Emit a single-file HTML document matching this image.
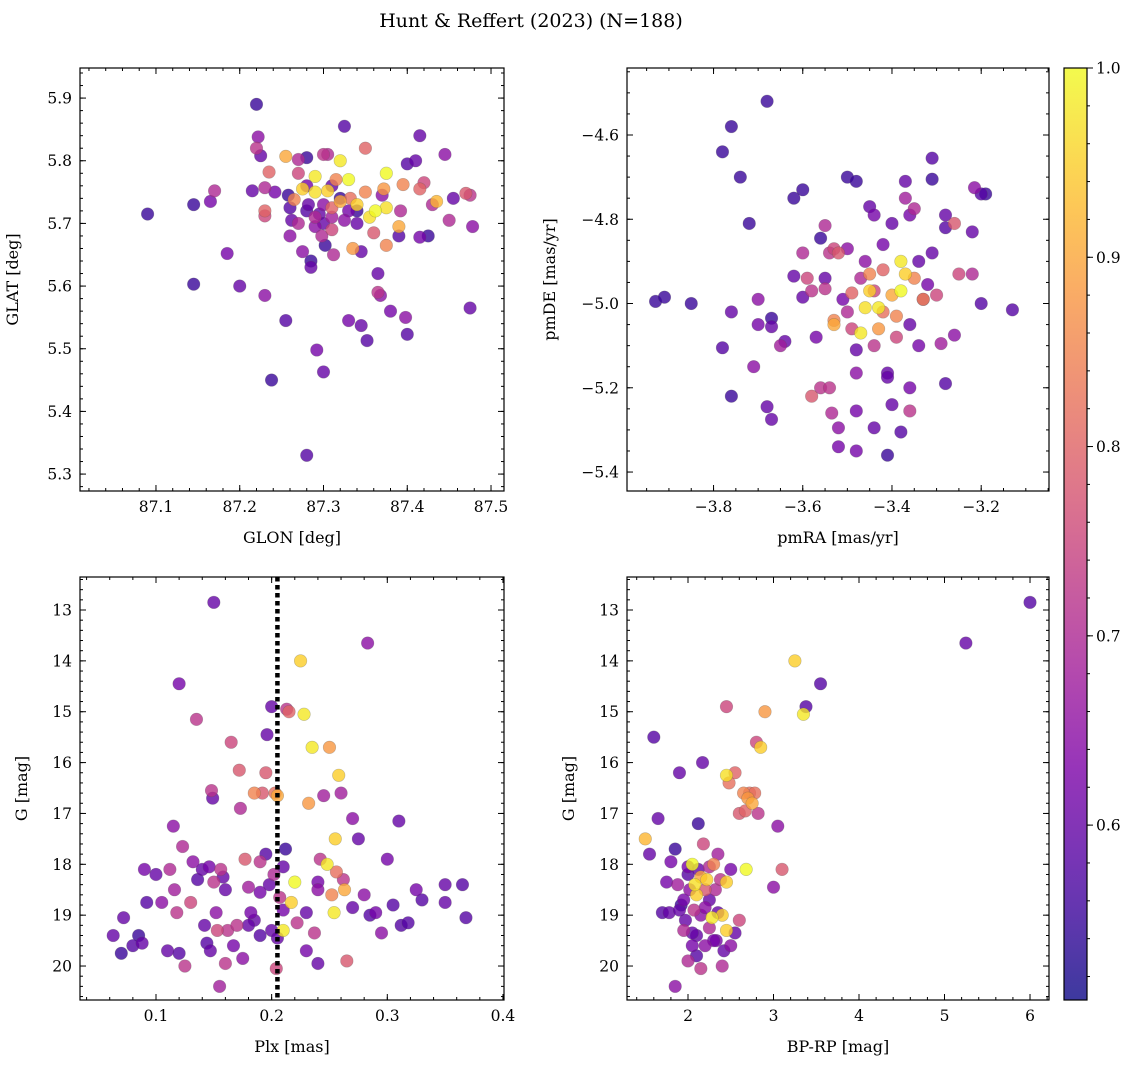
<!DOCTYPE html>
<html><head><meta charset="utf-8"><style>
body{margin:0;background:#fff;}
svg{display:block;font-family:"DejaVu Serif","Liberation Serif",serif;}
</style></head><body>
<svg id="fig" width="1136" height="1068" viewBox="0 0 1136 1068">
<text x="531" y="27" font-size="19" text-anchor="middle">Hunt &amp; Reffert (2023) (N=188)</text>
</svg>
<script>
// Panel 1: GLON vs GLAT
const p1x=[87.09,87.145,87.145,87.165,87.17,87.185,87.2,87.22,87.222,87.22,87.225,87.215,87.23,87.23,87.23,87.23,87.235,87.238,87.242,87.255,87.255,87.258,87.26,87.262,87.265,87.27,87.27,87.27,87.275,87.275,87.28,87.28,87.28,87.282,87.285,87.285,87.29,87.29,87.292,87.295,87.298,87.3,87.3,87.3,87.302,87.305,87.305,87.31,87.31,87.312,87.315,87.32,87.32,87.325,87.325,87.33,87.33,87.332,87.335,87.34,87.34,87.345,87.345,87.35,87.352,87.355,87.36,87.362,87.365,87.365,87.368,87.37,87.372,87.375,87.375,87.375,87.38,87.39,87.39,87.392,87.395,87.398,87.4,87.4,87.41,87.415,87.415,87.415,87.42,87.425,87.43,87.435,87.445,87.45,87.455,87.47,87.475,87.475,87.478,87.28,87.31,87.32,87.3,87.34,87.29,87.26,87.33,87.35,87.31,87.29];
const p1y=[5.715,5.73,5.603,5.735,5.752,5.652,5.6,5.89,5.838,5.82,5.808,5.752,5.585,5.757,5.712,5.72,5.782,5.45,5.75,5.807,5.545,5.745,5.68,5.705,5.738,5.7,5.78,5.802,5.755,5.655,5.33,5.805,5.76,5.73,5.64,5.63,5.75,5.775,5.498,5.715,5.68,5.463,5.81,5.73,5.665,5.752,5.81,5.725,5.69,5.65,5.77,5.8,5.735,5.855,5.705,5.545,5.77,5.74,5.66,5.73,5.72,5.537,5.655,5.82,5.513,5.71,5.685,5.72,5.59,5.62,5.585,5.745,5.755,5.78,5.725,5.665,5.56,5.695,5.68,5.72,5.762,5.55,5.523,5.795,5.8,5.84,5.755,5.678,5.765,5.68,5.73,5.735,5.81,5.705,5.74,5.748,5.745,5.565,5.695,5.72,5.76,5.74,5.7,5.7,5.71,5.725,5.72,5.75,5.71,5.695];
const p1c=[0.55,0.55,0.55,0.62,0.7,0.62,0.6,0.55,0.65,0.72,0.6,0.6,0.65,0.7,0.75,0.8,0.8,0.55,0.62,0.9,0.58,0.55,0.65,0.6,0.85,0.7,0.75,0.7,0.95,0.65,0.58,0.55,0.62,0.6,0.55,0.6,0.97,0.98,0.62,0.6,0.7,0.6,0.72,0.65,0.55,0.95,0.7,0.8,0.75,0.7,0.85,0.98,0.9,0.58,0.65,0.62,1.0,0.82,0.88,0.95,0.55,0.6,0.6,0.8,0.58,0.97,0.78,1.0,0.72,0.6,0.65,0.65,0.88,1.0,0.97,0.85,0.62,0.9,0.58,0.7,0.85,0.65,0.58,0.58,0.6,0.6,0.8,0.62,0.75,0.55,0.7,0.92,0.65,0.7,0.6,0.78,0.72,0.6,0.65,0.58,0.6,0.55,0.6,0.6,0.7,0.58,0.62,0.85,0.68,0.65];
// Panel 2: pmRA vs pmDE
const p2x=[-3.93,-3.91,-3.85,-3.78,-3.76,-3.74,-3.68,-3.72,-3.78,-3.76,-3.76,-3.7,-3.68,-3.67,-3.67,-3.67,-3.7,-3.71,-3.65,-3.64,-3.62,-3.62,-3.6,-3.6,-3.59,-3.58,-3.58,-3.57,-3.56,-3.56,-3.55,-3.55,-3.54,-3.54,-3.535,-3.53,-3.53,-3.53,-3.52,-3.52,-3.52,-3.51,-3.5,-3.5,-3.49,-3.49,-3.48,-3.48,-3.48,-3.48,-3.48,-3.47,-3.47,-3.46,-3.46,-3.45,-3.45,-3.45,-3.44,-3.44,-3.44,-3.43,-3.43,-3.42,-3.42,-3.41,-3.41,-3.41,-3.4,-3.4,-3.4,-3.39,-3.39,-3.38,-3.38,-3.38,-3.37,-3.37,-3.37,-3.36,-3.36,-3.36,-3.36,-3.35,-3.35,-3.34,-3.34,-3.33,-3.33,-3.32,-3.31,-3.31,-3.31,-3.3,-3.29,-3.28,-3.28,-3.28,-3.26,-3.26,-3.25,-3.22,-3.22,-3.215,-3.2,-3.19,-3.2,-3.13,-3.6,-3.55,-3.5,-3.42,-3.44];
const p2y=[-4.995,-4.985,-5.0,-4.64,-4.58,-4.7,-4.52,-4.81,-5.105,-5.22,-5.02,-4.99,-5.245,-5.275,-5.035,-5.055,-5.05,-5.15,-5.1,-5.09,-4.935,-4.75,-4.985,-4.73,-4.94,-5.22,-4.97,-5.08,-5.2,-4.845,-4.965,-4.815,-4.88,-5.2,-5.26,-5.04,-5.05,-4.87,-5.295,-5.34,-4.88,-4.99,-4.7,-4.87,-4.975,-5.06,-4.71,-5.35,-5.255,-5.165,-5.11,-5.07,-4.94,-5.01,-4.9,-4.93,-4.97,-4.77,-4.79,-5.1,-5.295,-5.01,-5.06,-4.86,-4.92,-5.165,-5.175,-5.36,-5.24,-4.81,-4.98,-5.03,-5.08,-5.305,-4.97,-4.9,-4.93,-4.75,-4.71,-5.255,-5.05,-5.2,-4.79,-4.94,-4.775,-5.1,-4.9,-4.99,-4.99,-4.955,-4.655,-4.705,-4.88,-4.98,-5.095,-5.19,-4.79,-4.82,-5.075,-4.81,-4.93,-4.93,-4.83,-4.725,-4.74,-4.74,-5.0,-5.015,-4.88,-4.94,-5.02,-5.02,-4.97];
const p2c=[0.55,0.55,0.55,0.55,0.55,0.55,0.55,0.55,0.58,0.55,0.6,0.65,0.6,0.6,0.55,0.6,0.62,0.65,0.68,0.6,0.6,0.55,0.6,0.55,0.75,0.78,0.72,0.62,0.72,0.55,0.72,0.7,0.72,0.72,0.7,0.85,0.9,0.75,0.65,0.62,0.78,0.62,0.55,0.65,0.8,0.75,0.55,0.62,0.62,0.65,0.6,0.98,0.7,0.97,0.65,0.85,0.95,0.6,0.62,0.72,0.6,0.98,0.88,0.62,0.8,0.6,0.6,0.55,0.6,0.6,0.9,0.85,0.75,0.58,1.0,0.98,0.95,0.68,0.6,0.72,0.6,0.62,0.62,0.85,0.7,0.62,0.6,0.85,0.65,0.62,0.58,0.55,0.6,0.75,0.68,0.58,0.6,0.58,0.65,0.78,0.75,0.7,0.6,0.65,0.58,0.55,0.58,0.58,0.7,0.6,0.7,0.82,0.75];
// Panel 3: Plx vs G
const p3x=[0.063,0.07,0.072,0.08,0.085,0.088,0.09,0.092,0.1,0.105,0.11,0.112,0.115,0.116,0.118,0.12,0.12,0.123,0.125,0.13,0.132,0.135,0.136,0.14,0.142,0.144,0.146,0.147,0.148,0.149,0.15,0.15,0.152,0.153,0.155,0.156,0.158,0.16,0.162,0.165,0.167,0.17,0.172,0.173,0.175,0.177,0.18,0.182,0.185,0.185,0.19,0.19,0.19,0.192,0.195,0.195,0.196,0.198,0.2,0.2,0.202,0.203,0.204,0.205,0.205,0.207,0.21,0.21,0.212,0.213,0.215,0.217,0.22,0.222,0.225,0.228,0.23,0.23,0.232,0.235,0.237,0.24,0.24,0.242,0.245,0.248,0.25,0.252,0.254,0.255,0.256,0.258,0.26,0.262,0.263,0.265,0.27,0.275,0.28,0.283,0.285,0.29,0.295,0.3,0.305,0.31,0.312,0.318,0.325,0.33,0.35,0.365,0.368,0.35,0.18,0.16,0.21,0.24,0.27];
const p3y=[19.4,19.75,19.05,19.6,19.4,19.55,18.1,18.75,18.2,18.75,19.7,18.1,17.25,18.5,18.95,14.45,19.75,17.65,20.0,18.75,17.95,15.15,18.3,18.1,19.2,19.55,18.05,19.7,16.55,16.7,12.85,18.35,18.95,19.3,20.4,18.1,18.25,19.95,19.3,15.6,19.6,19.2,16.15,16.9,19.85,17.9,18.45,18.95,19.1,16.6,17.95,19.4,18.55,16.6,16.2,17.8,15.45,18.4,14.9,19.3,18.2,16.6,20.05,16.65,19.45,18.65,19.3,18.05,17.7,14.95,15.0,18.75,18.35,19.15,14.0,15.05,18.95,19.7,16.8,15.7,19.35,18.35,19.95,17.9,16.65,18.0,15.7,18.6,18.95,17.5,18.15,16.25,16.6,18.3,18.5,19.9,17.1,17.5,18.6,13.65,19.0,18.95,19.35,17.9,18.8,17.15,19.2,19.15,18.5,18.7,18.75,18.4,19.05,18.4,19.2,18.5,18.9,18.5,18.85];
const p3c=[0.6,0.55,0.6,0.58,0.55,0.6,0.62,0.58,0.6,0.65,0.6,0.7,0.65,0.68,0.72,0.62,0.58,0.7,0.72,0.75,0.65,0.72,0.58,0.6,0.6,0.58,0.62,0.6,0.72,0.6,0.6,0.72,0.65,0.75,0.68,0.72,0.6,0.72,0.72,0.75,0.62,0.72,0.78,0.7,0.65,0.78,0.68,0.62,0.6,0.85,0.72,0.58,0.62,0.78,0.78,0.58,0.6,0.6,0.6,0.6,0.7,0.82,0.75,0.9,0.6,0.72,0.98,0.6,0.55,0.72,0.8,0.95,1.0,0.72,0.95,0.98,0.6,0.62,0.88,0.98,0.72,0.62,0.6,0.72,0.68,0.98,0.88,0.85,0.98,0.95,0.82,0.95,0.68,0.72,0.9,0.78,0.65,0.6,0.65,0.65,0.58,0.62,0.65,0.62,0.58,0.6,0.58,0.58,0.62,0.58,0.6,0.58,0.58,0.6,0.6,0.6,0.62,0.65,0.6];
const plxCut=[0.205];
// Panel 4: BP-RP vs G
const p4x=[1.5,1.55,1.6,1.65,1.7,1.75,1.78,1.8,1.85,1.88,1.9,1.92,1.95,1.95,1.97,2.0,2.0,2.02,2.05,2.05,2.07,2.08,2.1,2.1,2.12,2.12,2.15,2.15,2.15,2.17,2.18,2.2,2.2,2.22,2.25,2.25,2.28,2.3,2.32,2.33,2.35,2.38,2.4,2.42,2.45,2.45,2.45,2.48,2.5,2.55,2.55,2.6,2.65,2.67,2.68,2.7,2.72,2.75,2.78,2.8,2.82,2.85,2.9,3.0,3.05,3.1,3.25,3.35,3.38,3.55,5.25,6.0,2.45,2.0,2.2,2.3,2.1,1.85,2.5,2.4,2.6,1.9,2.35,2.25,2.05];
const p4y=[17.5,17.8,15.5,17.1,18.95,18.35,18.95,17.95,17.7,18.4,16.2,18.8,19.3,18.7,19.1,18.2,19.9,18.5,19.6,18.0,18.9,18.4,18.6,19.4,17.2,18.1,18.25,19.0,20.05,16.0,17.6,18.5,19.6,18.3,18.7,19.25,19.05,18.0,18.5,19.5,18.95,18.3,19.0,19.7,19.3,14.9,16.25,16.4,18.1,16.2,19.35,17.0,16.6,16.95,18.1,16.7,16.6,16.8,16.6,15.6,17.0,15.7,15.0,18.45,17.25,18.1,14.0,15.05,14.9,14.45,13.65,12.85,18.35,18.05,18.85,19.5,19.8,20.4,19.6,20.0,19.1,18.9,17.8,18.05,19.35];
const p4c=[0.92,0.6,0.58,0.6,0.58,0.62,0.6,0.62,0.55,0.68,0.6,0.55,0.7,0.62,0.6,0.58,0.7,0.65,0.62,1.0,0.72,0.97,0.95,0.6,0.55,0.6,0.9,0.65,0.72,0.6,0.75,0.78,0.65,0.95,0.6,0.7,0.98,0.85,0.7,0.62,0.6,0.72,0.95,0.6,0.95,0.75,0.97,0.82,0.62,0.8,0.6,0.78,0.85,0.8,1.0,0.88,0.82,0.9,0.82,0.75,0.72,0.95,0.88,0.65,0.65,0.78,0.95,0.98,0.58,0.58,0.6,0.58,0.95,0.62,0.65,0.62,0.58,0.65,0.65,0.7,0.75,0.6,0.68,0.7,0.6];
const cbTicks=[0.6,0.7,0.8,0.9,1.0];

const NS='http://www.w3.org/2000/svg';
const svg=document.getElementById('fig');
function el(tag,attrs,parent){const e=document.createElementNS(NS,tag);for(const k in attrs)e.setAttribute(k,attrs[k]);(parent||svg).appendChild(e);return e;}
const stops=[[0,13,8,135],[0.125,75,3,161],[0.25,125,3,168],[0.375,168,34,150],[0.5,203,70,121],[0.625,229,107,93],[0.75,248,148,65],[0.875,253,195,40],[1,240,249,33]];
function plasmaRGB(t){t=Math.max(0,Math.min(1,t));for(let i=1;i<stops.length;i++){if(t<=stops[i][0]){const a=stops[i-1],b=stops[i],f=(t-a[0])/(b[0]-a[0]);return [a[1]+f*(b[1]-a[1]),a[2]+f*(b[2]-a[2]),a[3]+f*(b[3]-a[3])];}}return [240,249,33];}
function plasma(t,alpha){const c=plasmaRGB(t);const a=alpha==null?1:alpha;return `rgb(${Math.round(c[0]*a+255*(1-a))},${Math.round(c[1]*a+255*(1-a))},${Math.round(c[2]*a+255*(1-a))})`;}
const CMIN=0.5076,CMAX=1.0;
function cnorm(v){return (v-CMIN)/(CMAX-CMIN);}

function panel(o){
  const g=el('g',{});  
  const sx=v=>o.x0+(v-o.xmin)/(o.xmax-o.xmin)*(o.x1-o.x0);
  const sy=o.yinv?(v=>o.y0+(v-o.ymin)/(o.ymax-o.ymin)*(o.y1-o.y0)):(v=>o.y1-(v-o.ymin)/(o.ymax-o.ymin)*(o.y1-o.y0));
  const idx=o.xs.map((_,i)=>i).sort((a,b)=>o.cs[a]-o.cs[b]);
  idx.forEach(i=>{const c=el('circle',{cx:sx(o.xs[i]),cy:sy(o.ys[i]),r:6.3,fill:plasma(cnorm(o.cs[i])),'fill-opacity':0.8,stroke:'#555','stroke-opacity':0.35,'stroke-width':0.6},g);
    
    });
  if(o.vline){const l=el('line',{x1:sx(o.vline),x2:sx(o.vline),y1:o.y0,y2:o.y1,stroke:'#000','stroke-width':4.5,'stroke-dasharray':'4.5,3.5'},g);
    
    }
  el('rect',{x:o.x0,y:o.y0,width:o.x1-o.x0,height:o.y1-o.y0,fill:'none',stroke:'#000','stroke-width':1.2},g);
  const tk=(x1,y1,x2,y2)=>el('line',{x1,y1,x2,y2,stroke:'#000','stroke-width':1},g);
  const eps=1e-9;
  for(let v=Math.ceil(o.xmin/o.xminor-eps)*o.xminor;v<=o.xmax+eps;v+=o.xminor){const x=sx(v);tk(x,o.y1,x,o.y1-3);tk(x,o.y0,x,o.y0+3);}
  for(let v=Math.ceil(o.ymin/o.yminor-eps)*o.yminor;v<=o.ymax+eps;v+=o.yminor){const y=sy(v);tk(o.x0,y,o.x0+3,y);tk(o.x1,y,o.x1-3,y);}
  for(let v=Math.ceil(o.xmin/o.xmaj-eps)*o.xmaj;v<=o.xmax+eps;v+=o.xmaj){const x=sx(v);tk(x,o.y1,x,o.y1-6);tk(x,o.y0,x,o.y0+6);
    const t=el('text',{x:x,y:o.y1+21,'font-size':15.5,'text-anchor':'middle'},g);t.textContent=o.xfmt(v).replace('-','\u2212');
    
    }
  for(let v=Math.ceil(o.ymin/o.ymaj-eps)*o.ymaj;v<=o.ymax+eps;v+=o.ymaj){const y=sy(v);tk(o.x0,y,o.x0+6,y);tk(o.x1,y,o.x1-6,y);
    const t=el('text',{x:o.x0-8,y:y+5.5,'font-size':15.5,'text-anchor':'end'},g);t.textContent=o.yfmt(v).replace('-','\u2212');
    
    }
  const xl=el('text',{x:(o.x0+o.x1)/2,y:o.y1+52,'font-size':16,'text-anchor':'middle'},g);xl.textContent=o.xlabel;
  
  
  const yx=o.x0-o.ylpad, yc=(o.y0+o.y1)/2;
  const yl=el('text',{x:yx,y:yc,'font-size':16,'text-anchor':'middle',transform:`rotate(-90 ${yx} ${yc})`},g);yl.textContent=o.ylabel;
  
  
}
const f1=v=>v.toFixed(1), f0=v=>v.toFixed(0);
panel({name:'glon-glat-panel',xs:p1x,ys:p1y,cs:p1c,x0:80,x1:504,y0:68,y1:491,xmin:87.0093,xmax:87.5155,ymin:5.273,ymax:5.948,xmaj:0.1,xminor:0.02,ymaj:0.1,yminor:0.02,xfmt:f1,yfmt:f1,xlabel:'GLON [deg]',ylabel:'GLAT [deg]',ylpad:62});
panel({name:'proper-motion-panel',xs:p2x,ys:p2y,cs:p2c,x0:627,x1:1049,y0:68,y1:491,xmin:-3.994,xmax:-3.048,ymin:-5.445,ymax:-4.441,xmaj:0.2,xminor:0.05,ymaj:0.2,yminor:0.05,xfmt:f1,yfmt:f1,xlabel:'pmRA [mas/yr]',ylabel:'pmDE [mas/yr]',ylpad:72});
panel({name:'parallax-mag-panel',xs:p3x,ys:p3y,cs:p3c,x0:80,x1:504,y0:577,y1:1000,xmin:0.0343,xmax:0.4009,ymin:12.351,ymax:20.668,yinv:true,xmaj:0.1,xminor:0.02,ymaj:1,yminor:0.2,xfmt:f1,yfmt:f0,xlabel:'Plx [mas]',ylabel:'G [mag]',ylpad:53,vline:plxCut[0]});
panel({name:'cmd-panel',xs:p4x,ys:p4y,cs:p4c,x0:627,x1:1049,y0:577,y1:1000,xmin:1.2865,xmax:6.222,ymin:12.351,ymax:20.668,yinv:true,xmaj:1,xminor:0.2,ymaj:1,yminor:0.2,xfmt:f0,yfmt:f0,xlabel:'BP-RP [mag]',ylabel:'G [mag]',ylpad:53});

// colorbar
const cb=el('g',{});


const defs=el('defs',{},cb);
const lg=el('linearGradient',{id:'pl',x1:0,y1:1,x2:0,y2:0},defs);
for(let i=0;i<=20;i++){el('stop',{offset:i/20,'stop-color':plasma(i/20,0.8)},lg);}
const CX0=1064,CX1=1087,CY0=68,CY1=1000;
el('rect',{x:CX0,y:CY0,width:CX1-CX0,height:CY1-CY0,fill:'url(#pl)',stroke:'#000','stroke-width':1.2},cb);
const cy=v=>CY1-(v-CMIN)/(CMAX-CMIN)*(CY1-CY0);
for(let v=0.52;v<=1.0001;v+=0.02){el('line',{x1:CX1,x2:CX1+3,y1:cy(v),y2:cy(v),stroke:'#000'},cb);}
cbTicks.forEach(v=>{el('line',{x1:CX1,x2:CX1+6,y1:cy(v),y2:cy(v),stroke:'#000'},cb);
  const t=el('text',{x:CX1+9,y:cy(v)+5.5,'font-size':15.5},cb);t.textContent=v.toFixed(1);
  
  });
</script>
</body></html>
